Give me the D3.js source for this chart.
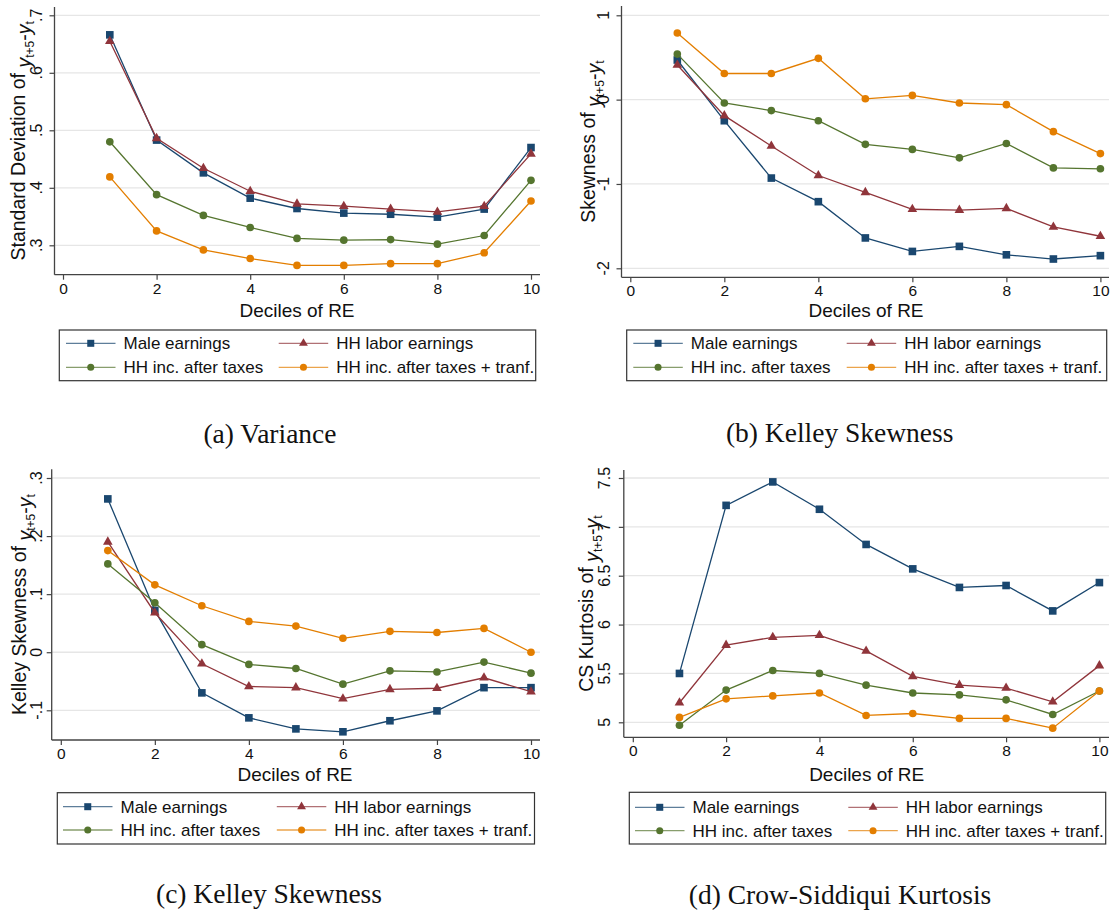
<!DOCTYPE html>
<html><head><meta charset="utf-8">
<script src="https://cdn.jsdelivr.net/npm/d3@7"></script>
<style>body{margin:0;background:#fff} svg{display:block}</style>
</head><body>
<svg id="chart" width="1112" height="915"></svg>
<script>
// ---------- DATA ----------
const deciles = [1,2,3,4,5,6,7,8,9,10];
const seriesNames = ["Male earnings","HH labor earnings","HH inc. after taxes","HH inc. after taxes + tranf."];
const xTickValues = [0,2,4,6,8,10];

// (a) Standard deviation
const sdMale     = [0.666,0.483,0.426,0.382,0.364,0.356,0.354,0.349,0.363,0.470];
const sdHHLabor  = [0.655,0.486,0.434,0.394,0.372,0.368,0.363,0.358,0.368,0.459];
const sdHHTax    = [0.480,0.388,0.352,0.331,0.312,0.309,0.310,0.302,0.317,0.413];
const sdHHTransf = [0.419,0.325,0.292,0.277,0.265,0.265,0.268,0.268,0.287,0.377];
const sdTicks = [0.3,0.4,0.5,0.6,0.7];
const sdTickLabels = [".3",".4",".5",".6",".7"];

// (b) Skewness
const skMale     = [0.47,-0.25,-0.93,-1.21,-1.64,-1.80,-1.74,-1.84,-1.89,-1.85];
const skHHLabor  = [0.41,-0.19,-0.55,-0.90,-1.10,-1.30,-1.31,-1.29,-1.51,-1.62];
const skHHTax    = [0.54,-0.04,-0.13,-0.25,-0.53,-0.59,-0.69,-0.52,-0.81,-0.82];
const skHHTransf = [0.79,0.31,0.31,0.49,0.01,0.05,-0.04,-0.06,-0.38,-0.64];
const skTicks = [-2,-1,0,1];
const skTickLabels = ["-2","-1","0","1"];

// (c) Kelley skewness
const ksMale     = [0.264,0.072,-0.070,-0.113,-0.132,-0.137,-0.118,-0.101,-0.061,-0.061];
const ksHHLabor  = [0.190,0.068,-0.020,-0.059,-0.061,-0.080,-0.064,-0.062,-0.044,-0.068];
const ksHHTax    = [0.152,0.085,0.013,-0.021,-0.028,-0.055,-0.032,-0.034,-0.017,-0.036];
const ksHHTransf = [0.175,0.116,0.080,0.053,0.045,0.024,0.036,0.034,0.041,0.000];
const ksTicks = [-0.1,0,0.1,0.2,0.3];
const ksTickLabels = ["-.1","0",".1",".2",".3"];

// (d) Crow-Siddiqui kurtosis
const cskMale     = [5.50,7.22,7.46,7.18,6.82,6.57,6.38,6.40,6.14,6.43];
const cskHHLabor  = [5.20,5.79,5.87,5.89,5.73,5.47,5.38,5.35,5.21,5.58];
const cskHHTax    = [4.97,5.33,5.53,5.50,5.38,5.30,5.28,5.23,5.08,5.32];
const cskHHTransf = [5.05,5.24,5.27,5.30,5.07,5.09,5.04,5.04,4.94,5.32];
const cskTicks = [5,5.5,6,6.5,7,7.5];
const cskTickLabels = ["5","5.5","6","6.5","7","7.5"];

// ---------- STYLE ----------
const colors = ["#1a476f","#90353b","#55752f","#e37e00"];
const shapes = [d3.symbolSquare, d3.symbolTriangle, d3.symbolCircle, d3.symbolCircle];
const sizes  = [58, 40, 46, 46];
const FONT = "'Liberation Sans', Arial, sans-serif";
const SERIF = "'Liberation Serif', 'Times New Roman', serif";

const panels = [
  { series:[sdMale,sdHHLabor,sdHHTax,sdHHTransf], ticks:sdTicks, tickLabels:sdTickLabels,
    yDom:[0.3,0.7], yRng:[245.3,15.3], xRng:[63,531],
    left:54.5, right:540, top:7, bottom:274.7, tickLabX:42, titleX:25,
    yTitle:"Standard Deviation of ", xTitle:[297,316.5],
    legend:{x0:59.3,y0:330,x1:535.7,y1:380.7,rows:[343.3,367.3],cols:[66,278.7]},
    caption:["(a) Variance",270,442.5] },
  { series:[skMale,skHHLabor,skHHTax,skHHTransf], ticks:skTicks, tickLabels:skTickLabels,
    yDom:[-2,1], yRng:[268.3,15.3], xRng:[630.3,1100.4],
    left:621.5, right:1109, top:6, bottom:277.3, tickLabX:609, titleX:595,
    yTitle:"Skewness of ", xTitle:[866,317],
    legend:{x0:626.7,y0:330,x1:1106.7,y1:380.7,rows:[343.3,367.3],cols:[633.3,846.7]},
    caption:["(b) Kelley Skewness",839.7,441.7] },
  { series:[ksMale,ksHHLabor,ksHHTax,ksHHTransf], ticks:ksTicks, tickLabels:ksTickLabels,
    yDom:[-0.1,0.3], yRng:[710.3,478], xRng:[60.8,531],
    left:51.7, right:540, top:469.3, bottom:740, tickLabX:42.3, titleX:26,
    yTitle:"Kelley Skewness of ", xTitle:[295,780.5],
    legend:{x0:57.3,y0:792.7,x1:534.5,y1:844,rows:[806.7,830],cols:[63,276.8]},
    caption:["(c) Kelley Skewness",269,903.3] },
  { series:[cskMale,cskHHLabor,cskHHTax,cskHHTransf], ticks:cskTicks, tickLabels:cskTickLabels,
    yDom:[5,7.5], yRng:[722.3,478], xRng:[632.8,1099.4],
    left:623.8, right:1109, top:470, bottom:737.3, tickLabX:609.5, titleX:593,
    yTitle:"CS Kurtosis of ", xTitle:[866.7,780.5],
    legend:{x0:629.3,y0:792.3,x1:1105.7,y1:844,rows:[807.3,830.7],cols:[635,848.3]},
    caption:["(d) Crow-Siddiqui Kurtosis",840,904] }
];

const svg = d3.select("#chart");
svg.append("rect").attr("width",1112).attr("height",915).attr("fill","#fff");

panels.forEach(p => {
  const g = svg.append("g");
  const x = d3.scaleLinear().domain([0,10]).range(p.xRng);
  const y = d3.scaleLinear().domain(p.yDom).range(p.yRng);

  // gridlines
  g.selectAll(".grid").data(p.ticks).enter().append("line")
    .attr("x1", p.left).attr("x2", p.right)
    .attr("y1", d => y(d)).attr("y2", d => y(d))
    .attr("stroke","#e6e6e6").attr("stroke-width",1.3);

  // y axis
  const yAxis = d3.axisLeft(y).tickValues(p.ticks).tickSize(5).tickFormat((d,i)=>p.tickLabels[i]);
  const ya = g.append("g").attr("transform",`translate(${p.left},0)`).call(yAxis);
  ya.select(".domain").remove();
  ya.selectAll(".tick line").attr("stroke","#444").attr("stroke-width",1.2);
  ya.selectAll(".tick text").remove();
  g.selectAll(".ylab").data(p.ticks).enter().append("text")
    .attr("transform",(d)=>`translate(${p.tickLabX},${y(d)}) rotate(-90)`)
    .attr("text-anchor","middle").attr("font-family",FONT).attr("font-size",16).attr("fill","#111")
    .text((d,i)=>p.tickLabels[i]);
  g.append("line").attr("x1",p.left).attr("x2",p.left).attr("y1",p.top).attr("y2",p.bottom)
    .attr("stroke","#444").attr("stroke-width",1.3);

  // x axis
  const xAxis = d3.axisBottom(x).tickValues(xTickValues).tickSize(5).tickPadding(3).tickFormat(d3.format("d"));
  const xa = g.append("g").attr("transform",`translate(0,${p.bottom})`).call(xAxis);
  xa.select(".domain").remove();
  xa.selectAll(".tick line").attr("stroke","#444").attr("stroke-width",1.2);
  xa.selectAll(".tick text").attr("font-family",FONT).attr("font-size",15.5).attr("fill","#111");
  g.append("line").attr("x1",p.left).attr("x2",p.right).attr("y1",p.bottom).attr("y2",p.bottom)
    .attr("stroke","#444").attr("stroke-width",1.3);

  // x title
  g.append("text").attr("x",p.xTitle[0]).attr("y",p.xTitle[1]).attr("text-anchor","middle")
    .attr("font-family",FONT).attr("font-size",19).attr("fill","#111").text("Deciles of RE");

  // y title
  const cy = (p.top + p.bottom)/2;
  const yt = g.append("text").attr("transform",`translate(${p.titleX},${cy}) rotate(-90)`)
    .attr("text-anchor","middle").attr("font-family",FONT).attr("font-size",19.5).attr("fill","#111");
  yt.append("tspan").text(p.yTitle);
  yt.append("tspan").attr("font-style","italic").attr("dy",6).text("y");
  yt.append("tspan").attr("font-size",12).attr("dy",3).text("t+5");
  yt.append("tspan").attr("dy",-3).text("-");
  yt.append("tspan").attr("font-style","italic").text("y");
  yt.append("tspan").attr("font-size",12).attr("dy",3).text("t");

  // series
  const line = d3.line().x((d,i)=>x(deciles[i])).y(d=>y(d));
  p.series.forEach((vals,si) => {
    const sg = g.append("g");
    sg.append("path").datum(vals).attr("d",line).attr("fill","none")
      .attr("stroke",colors[si]).attr("stroke-width",1.3);
    sg.selectAll("path.m").data(vals).enter().append("path").attr("class","m")
      .attr("transform",(d,i)=>`translate(${x(deciles[i])},${y(d)})`)
      .attr("d", d3.symbol().type(shapes[si]).size(sizes[si])())
      .attr("fill",colors[si]);
  });

  // legend
  const L = p.legend;
  g.append("rect").attr("x",L.x0).attr("y",L.y0).attr("width",L.x1-L.x0).attr("height",L.y1-L.y0)
    .attr("fill","#fff").attr("stroke","#333").attr("stroke-width",1.2);
  seriesNames.forEach((name,si) => {
    const row = L.rows[Math.floor(si/2)], col = L.cols[si%2];
    g.append("line").attr("x1",col).attr("x2",col+49.5).attr("y1",row).attr("y2",row)
      .attr("stroke",colors[si]).attr("stroke-width",1.3).attr("stroke-opacity",0.7);
    g.append("path").attr("transform",`translate(${col+24.75},${row})`)
      .attr("d", d3.symbol().type(shapes[si]).size(sizes[si]*0.85)()).attr("fill",colors[si]);
    g.append("text").attr("x",col+57.5).attr("y",row).attr("dy","0.35em")
      .attr("font-family",FONT).attr("font-size",17).attr("fill","#111").text(name);
  });

  // caption
  g.append("text").attr("x",p.caption[1]).attr("y",p.caption[2]).attr("text-anchor","middle")
    .attr("font-family",SERIF).attr("font-size",27.5).attr("fill","#111").text(p.caption[0]);
});
</script>
</body></html>
